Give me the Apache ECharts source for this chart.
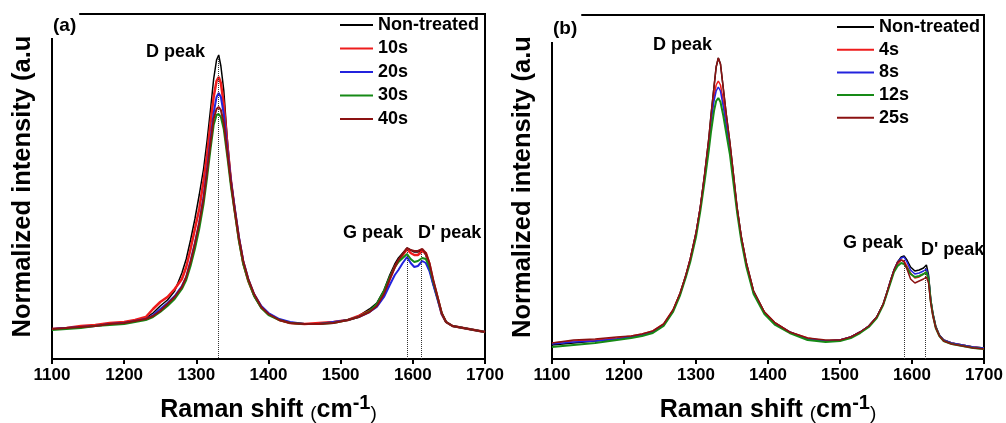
<!DOCTYPE html>
<html>
<head>
<meta charset="utf-8">
<script src="https://cdn.jsdelivr.net/npm/echarts@6/dist/echarts.min.js"></script>
<style>html,body{margin:0;padding:0;background:#fff;}#c{width:1006px;height:423px;}</style>
</head>
<body>
<div id="c"></div>
<script>
// ---------- DATA ----------
const xTicks = [1100, 1200, 1300, 1400, 1500, 1600, 1700];

// panel (a)
const labelsA = ['Non-treated', '10s', '20s', '30s', '40s'];
const waveA = [1100,1120,1140,1160,1180,1200,1215,1230,1240,1250,
  1260,1270,1280,1286,1292,1298,1304,1310,1315,1320,
  1324,1328,1331,1334,1338,1343,1348,1353,1359,1365,
  1372,1380,1390,1400,1415,1430,1450,1470,1490,1510,
  1525,1540,1550,1560,1568,1575,1580,1586,1592,1597,
  1602,1607,1613,1618,1623,1628,1634,1640,1646,1655,
  1670,1685,1700];
const nonTreatedA = [30,31,32,34,35,37,38,41,46,53,
  59,68,86,100,119,140,164,190,219,252,
  280,299,304,293,269,219,180,152,119,95,
  78,63,51,45,39,36,35,35,37,39,
  43,50,56,69,84,95,101,106,111,109,
  107,107,109,104,90,75,61,46,37,33,
  31,29,27];
const s10A = [30,31,33,34,36,37,39,42,50,57,
  62,70,80,92,110,130,150,178,205,238,
  262,278,282,276,255,214,178,150,120,96,
  78,64,52,45,39,36,35,36,37,39,
  43,48,53,64,80,92,98,104,110,106,
  104,104,108,106,95,78,62,45,37,33,
  31,29,27];
const s20A = [30,31,32,33,35,36,38,40,44,50,
  56,63,73,82,98,116,136,162,190,222,
  246,262,266,262,245,210,178,152,122,98,
  80,65,53,46,40,37,35,35,37,39,
  42,47,52,62,74,84,89,96,102,96,
  92,93,98,96,88,75,60,45,37,33,
  31,29,27];
const s30A = [29,30,31,33,34,35,37,39,42,47,
  53,60,70,79,93,110,130,155,182,212,
  234,244,245,242,230,202,172,148,118,95,
  78,63,51,44,39,36,35,35,36,39,
  42,48,55,68,82,92,97,101,105,100,
  97,98,101,100,92,78,62,46,37,33,
  31,29,27];
const s40A = [30,31,32,33,35,36,38,40,43,48,
  55,62,72,82,97,115,136,160,188,218,
  240,250,252,249,236,206,176,150,121,98,
  80,65,52,45,39,36,35,35,36,39,
  42,47,53,65,80,92,99,105,111,109,
  108,108,110,106,96,80,63,46,37,33,
  31,29,27];
const peakPosA = [1330, 1592, 1612];
const peakTopA = [302, 109, 107];

// panel (b)
const labelsB = ['Non-treated', '4s', '8s', '12s', '25s'];
const waveB = [1100,1130,1160,1190,1210,1225,1240,1255,1268,1278,
  1286,1292,1300,1306,1312,1318,1321,1325,1328,1331,
  1334,1338,1342,1347,1352,1357,1363,1370,1380,1395,
  1410,1430,1455,1480,1500,1515,1528,1540,1551,1560,
  1565,1570,1575,1580,1585,1589,1593,1598,1604,1610,
  1616,1620,1623,1626,1629,1633,1638,1644,1655,1670,
  1685,1700];
const nonTreatedB = [14,16,18,20,22,24,27,34,48,66,
  84,100,126,152,185,222,245,272,292,301,
  295,270,245,217,185,152,122,96,68,47,
  36,27,20,18,19,22,27,33,42,55,
  66,78,89,97,102,103,99,92,88,89,
  91,94,84,60,46,33,24,19,16,14,
  12,11];
const s4B = [16,18,19,21,23,25,28,35,49,66,
  84,100,126,152,184,218,240,262,274,278,
  274,258,238,214,183,151,121,95,67,47,
  36,27,21,18,19,22,27,33,42,55,
  66,77,88,95,99,98,93,86,81,82,
  85,87,80,58,44,32,24,19,16,14,
  12,11];
const s8B = [15,17,18,20,22,24,27,34,48,65,
  83,99,125,151,183,216,238,258,268,272,
  268,252,233,211,181,150,120,94,66,46,
  35,27,20,18,19,22,27,33,42,55,
  66,78,89,97,101,102,97,89,85,86,
  88,90,82,59,45,32,24,19,16,14,
  12,11];
const s12B = [12,14,16,19,21,23,26,33,47,64,
  82,97,122,148,178,210,228,248,258,261,
  257,243,226,205,176,147,118,92,65,45,
  34,26,19,17,18,21,26,32,41,54,
  65,76,87,93,96,95,91,85,82,83,
  85,87,80,58,44,31,23,18,15,13,
  11,10];
const s25B = [16,19,20,22,23,25,28,35,49,66,
  84,100,126,152,185,222,245,272,292,301,
  295,270,245,217,185,152,122,96,68,47,
  36,27,21,19,19,22,27,33,42,55,
  66,78,89,97,99,97,90,80,76,78,
  80,82,76,56,43,31,23,18,15,13,
  11,10];
const peakPosB = [1589, 1618];
const peakTopB = [99, 91];

// ---------- STYLE ----------
const FF = 'Liberation Sans, Arial, sans-serif';
const colors = ['#000000', '#ee1c1c', '#2323dd', '#168a16', '#8b1212'];
const widthsA = [1.5, 2.5, 2, 2, 2];
const widthsB = [1.5, 1.5, 1.5, 2, 1.5];

function pairs(xs, ys) { return xs.map((x, i) => [x, ys[i]]); }
function dotted(pos, top) {
  return {
    silent: true, symbol: 'none', animation: false,
    label: { show: false },
    lineStyle: { type: 'dotted', color: '#333', width: 1 },
    data: pos.map((p, i) => [{ coord: [p, top[i]] }, { coord: [p, 0] }])
  };
}
function mkSeries(names, xs, arrs, idx, widths, peaks) {
  return arrs.map((a, i) => {
    const s = {
      type: 'line', name: names[i], xAxisIndex: idx, yAxisIndex: idx,
      data: pairs(xs, a), symbol: 'none', showSymbol: false, smooth: false,
      lineStyle: { color: colors[i], width: widths[i] },
      itemStyle: { color: colors[i] }, z: 2 + i
    };
    if (i === 0 && peaks) s.markLine = dotted(peaks[0], peaks[1]);
    return s;
  });
}
const nameRich = {
  a: { fontSize: 25, fontWeight: 'bold', fontFamily: FF, color: '#000', lineHeight: 30, verticalAlign: 'bottom' },
  p: { fontSize: 19, fontWeight: 'normal', fontFamily: FF, color: '#000', lineHeight: 26, verticalAlign: 'bottom' },
  s: { fontSize: 20, fontWeight: 'bold', fontFamily: FF, color: '#000', lineHeight: 20, verticalAlign: 'top' }
};
function xAx(idx) {
  return {
    type: 'value', gridIndex: idx, min: xTicks[0], max: xTicks[xTicks.length - 1], interval: 100,
    name: '{a|Raman shift }{p|(}{a|cm}{s|-1}{p|)}',
    nameLocation: 'middle', nameGap: 34,
    nameTextStyle: { rich: nameRich },
    axisLine: { lineStyle: { color: '#000', width: 2 } },
    axisTick: { show: true, inside: false, length: 5, lineStyle: { color: '#000', width: 2 } },
    axisLabel: { fontSize: 17, fontWeight: 'bold', fontFamily: FF, color: '#000', margin: 8,
      formatter: v => String(v) },
    splitLine: { show: false }
  };
}
function yAx(idx, max) {
  return {
    type: 'value', gridIndex: idx, min: 0, max: max,
    name: 'Normalized intensity (a.u', nameLocation: 'middle', nameGap: 16,
    nameTextStyle: { fontSize: 25.5, fontWeight: 'bold', fontFamily: FF, color: '#000' },
    axisLine: { show: true, lineStyle: { color: '#000', width: 2 } },
    axisTick: { show: false }, axisLabel: { show: false }, splitLine: { show: false }
  };
}
function legend(names, left, top, w, gap) {
  return {
    data: names.map((n, i) => ({ name: n, icon: 'rect', itemStyle: { color: colors[i] } })),
    orient: 'vertical', left: left, top: top, padding: 0,
    itemWidth: w, itemHeight: 2, itemGap: gap, selectedMode: false,
    textStyle: { fontSize: 18, fontWeight: 'bold', fontFamily: FF, color: '#000', lineHeight: 18 }
  };
}
function peakText(x, y, t) {
  return { type: 'text', x: x, y: y, z: 50,
    style: { text: t, font: 'bold 18px ' + FF, fill: '#000', verticalAlign: 'middle' } };
}

const chart = echarts.init(document.getElementById('c'), null, { renderer: 'canvas' });
chart.setOption({
  animation: false,
  backgroundColor: '#fff',
  title: [
    { text: '(a)', left: 48, top: 8, padding: [8, 3, 3, 5], backgroundColor: '#fff', z: 20,
      textStyle: { fontSize: 19, fontWeight: 'bold', fontFamily: FF, color: '#000', lineHeight: 19 } },
    { text: '(b)', left: 548, top: 11, padding: [8, 4, 4, 5], backgroundColor: '#fff', z: 20,
      textStyle: { fontSize: 19, fontWeight: 'bold', fontFamily: FF, color: '#000', lineHeight: 19 } }
  ],
  grid: [
    { left: 52, right: 521, top: 14, bottom: 64, outerBoundsMode: 'none', containLabel: false,
      show: true, borderColor: '#000', borderWidth: 2, backgroundColor: 'transparent' },
    { left: 552, right: 22, top: 15, bottom: 64, outerBoundsMode: 'none', containLabel: false,
      show: true, borderColor: '#000', borderWidth: 2, backgroundColor: 'transparent' }
  ],
  xAxis: [xAx(0), xAx(1)],
  yAxis: [yAx(0, 345), yAx(1, 344)],
  legend: [legend(labelsA, 340, 16, 33, 5.5), legend(labelsB, 837, 18, 37, 4.7)],
  graphic: [
    peakText(146, 52, 'D peak'), peakText(343, 233, 'G peak'), peakText(418, 233, "D' peak"),
    peakText(653, 45, 'D peak'), peakText(843, 243, 'G peak'), peakText(921, 250, "D' peak")
  ],
  series: [].concat(
    mkSeries(labelsA, waveA, [nonTreatedA, s10A, s20A, s30A, s40A], 0, widthsA, [peakPosA, peakTopA]),
    mkSeries(labelsB, waveB, [nonTreatedB, s4B, s8B, s12B, s25B], 1, widthsB, [peakPosB, peakTopB])
  )
});
</script>
</body>
</html>
